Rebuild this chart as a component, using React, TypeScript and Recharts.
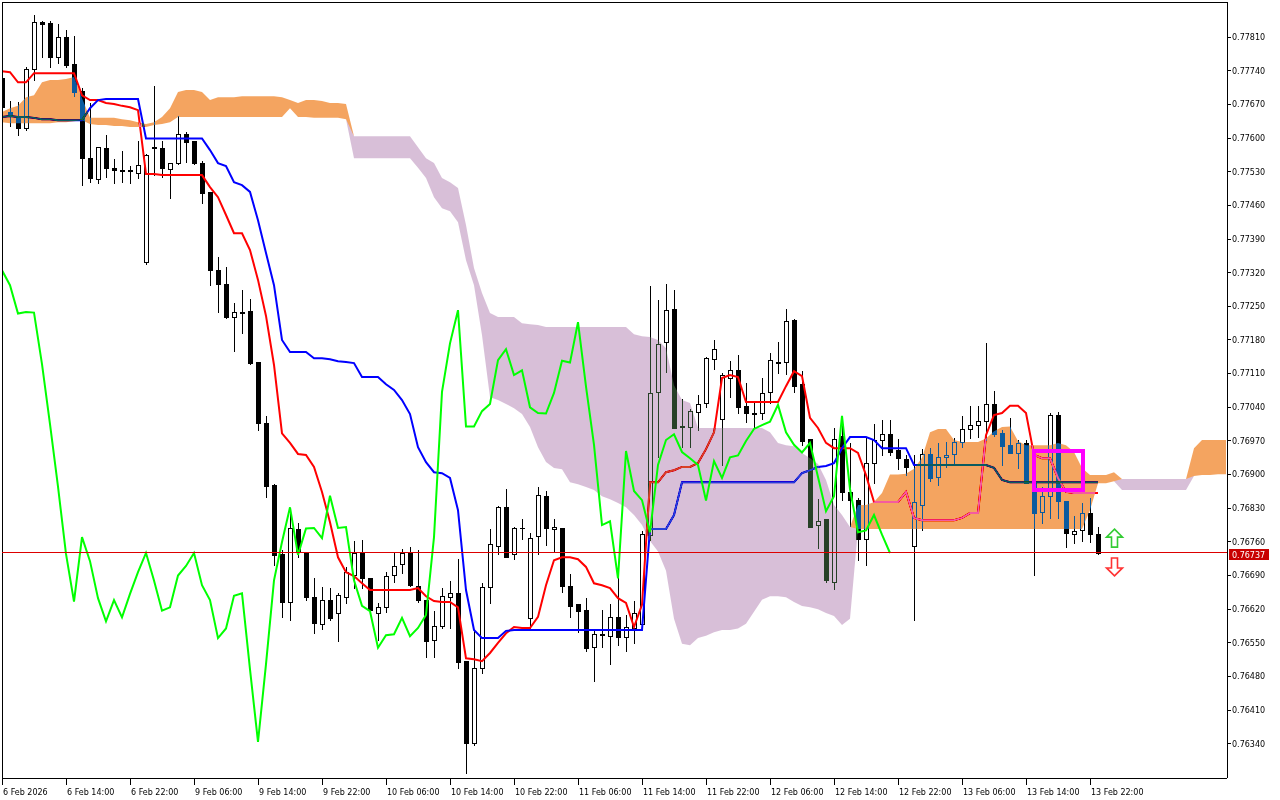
import {
  ComposedChart, Bar, Line, Area, XAxis, YAxis, CartesianGrid,
  ReferenceLine, ReferenceArea, ReferenceDot,
} from 'recharts';

// prices are in points (0.76737 -> 76737)
const opens = [
  77725, 77654, 77644, 77621, 77743, 77842, 77839, 77768, 77810, 77754,
  77698, 77558, 77515, 77579, 77538, 77533, 77533, 77527, 77342, 77581,
  77579, 77536, 77548, 77608, 77594, 77548, 77488, 77325, 77296, 77228,
  77238, 77240, 77134, 77007, 76878, 76735, 76635, 76787, 76737, 76645,
  76589, 76639, 76612, 76645, 76691, 76737, 76685, 76612, 76624, 76691,
  76714, 76737, 76668, 76639, 76556, 76585, 76645, 76653, 76512, 76342,
  76498, 76666, 76751, 76832, 76735, 76789, 76602, 76772, 76855, 76787,
  76789, 76668, 76631, 76618, 76541, 76567, 76564, 76604, 76562, 76581,
  76590, 76774, 77072, 77176, 77244, 77001, 76999, 77030, 77049, 77140,
  77015, 77100, 77117, 77042, 77028, 77028, 77072, 77134, 77134, 77221,
  77088, 76974, 76795, 76807, 76676, 76980, 76864, 76847, 76766, 76924,
  76972, 76984, 76951, 76932, 76751, 76837, 76943, 76895, 76936, 76943,
  76968, 76995, 77003, 77011, 77047, 76986, 76961, 76945, 76966, 76882,
  76822, 76855, 77024, 76845, 76776, 76785, 76820, 76776,
];
const highs = [
  77731, 77677, 77675, 77748, 77856, 77843, 77843, 77837, 77825, 77812,
  77704, 77673, 77581, 77606, 77556, 77573, 77542, 77594, 77567, 77708,
  77594, 77548, 77646, 77612, 77594, 77552, 77488, 77352, 77332, 77257,
  77284, 77265, 77134, 77022, 76880, 76743, 76830, 76799, 76737, 76685,
  76666, 76664, 76654, 76708, 76762, 76764, 76685, 76633, 76697, 76739,
  76745, 76749, 76743, 76639, 76616, 76664, 76679, 76724, 76512, 76577,
  76674, 76787, 76835, 76870, 76791, 76807, 76778, 76874, 76866, 76807,
  76789, 76693, 76631, 76643, 76577, 76618, 76631, 76695, 76608, 76637,
  76782, 77292, 77263, 77296, 77284, 77057, 77036, 77065, 77144, 77180,
  77111, 77136, 77149, 77090, 77049, 77101, 77153, 77176, 77244, 77223,
  77115, 76974, 76849, 76807, 76997, 77020, 76966, 76851, 76978, 77005,
  77013, 77013, 76974, 76941, 76941, 76953, 76955, 76966, 76968, 76976,
  77022, 77043, 77043, 77174, 77074, 76993, 77018, 76972, 76972, 76882,
  76874, 77028, 77030, 76845, 76814, 76841, 76851, 76791,
];
const lows = [
  77654, 77625, 77606, 77617, 77721, 77768, 77748, 77756, 77748, 77687,
  77502, 77508, 77506, 77519, 77506, 77508, 77506, 77517, 77338, 77523,
  77519, 77475, 77546, 77550, 77546, 77465, 77294, 77238, 77226, 77157,
  77194, 77130, 76993, 76853, 76712, 76604, 76597, 76728, 76639, 76570,
  76579, 76597, 76554, 76633, 76664, 76664, 76612, 76556, 76614, 76676,
  76695, 76668, 76635, 76520, 76520, 76581, 76581, 76498, 76279, 76337,
  76487, 76633, 76735, 76728, 76724, 76766, 76579, 76735, 76753, 76739,
  76656, 76604, 76572, 76533, 76471, 76541, 76506, 76545, 76533, 76550,
  76581, 76764, 76936, 77113, 76997, 76957, 76957, 76993, 77040, 77119,
  76920, 77061, 77028, 77009, 76997, 77015, 77049, 77111, 77109, 77072,
  76961, 76791, 76747, 76676, 76662, 76847, 76793, 76722, 76712, 76882,
  76941, 76941, 76911, 76899, 76597, 76785, 76887, 76878, 76916, 76924,
  76957, 76976, 76978, 76972, 76980, 76920, 76945, 76914, 76882, 76691,
  76799, 76810, 76810, 76749, 76758, 76762, 76760, 76735,
];
const closes = [
  77664, 77646, 77621, 77743, 77841, 77838, 77768, 77810, 77752, 77696,
  77558, 77517, 77581, 77538, 77533, 77532, 77531, 77544, 77565, 77580,
  77538, 77548, 77608, 77592, 77548, 77486, 77325, 77296, 77228, 77238,
  77237, 77132, 77007, 76876, 76733, 76635, 76789, 76739, 76645, 76591,
  76639, 76602, 76649, 76697, 76737, 76685, 76618, 76624, 76689, 76710,
  76737, 76670, 76639, 76554, 76585, 76647, 76653, 76510, 76342, 76498,
  76666, 76755, 76832, 76728, 76789, 76788, 76768, 76857, 76789, 76791,
  76668, 76627, 76616, 76539, 76568, 76569, 76604, 76562, 76583, 76612,
  76776, 77070, 77171, 77242, 76997, 77000, 77032, 77047, 77142, 77161,
  77107, 77117, 77040, 77028, 77027, 77070, 77138, 77133, 77219, 77084,
  76970, 76791, 76803, 76681, 76975, 76864, 76847, 76766, 76924, 76972,
  76984, 76947, 76934, 76916, 76843, 76943, 76893, 76936, 76940, 76968,
  76995, 77003, 77011, 77047, 76984, 76959, 76945, 76966, 76882, 76820,
  76855, 77024, 76845, 76778, 76783, 76820, 76776, 76737,
];

const tenkan = [
  77739, 77737, 77716, 77716, 77735, 77735, 77735, 77735, 77735, 77735,
  77689, 77679, 77679, 77673, 77671, 77667, 77664, 77658, 77525, 77525,
  77523, 77523, 77523, 77523, 77523, 77523, 77498, 77477, 77440, 77402,
  77402, 77367, 77305, 77230, 77128, 76986, 76966, 76943, 76941, 76916,
  76864, 76801, 76728, 76697, 76689, 76674, 76660, 76660, 76660, 76660,
  76660, 76660, 76664, 76647, 76637, 76635, 76635, 76624, 76518, 76516,
  76512, 76529, 76550, 76570, 76583, 76581, 76581, 76604, 76670, 76722,
  76728, 76728, 76724, 76708, 76674, 76670, 76664, 76643, 76633, 76583,
  76629, 76884, 76884, 76905, 76909, 76916, 76916, 76924, 76953, 76988,
  77101, 77107, 77103, 77051, 77051, 77051, 77051, 77051, 77084, 77115,
  77105, 77018, 76997, 76966, 76955, 76955, 76955, 76945, 76899, 76843,
  76843, 76843, 76843, 76864, 76810, 76805, 76805, 76805, 76805, 76805,
  76810, 76820, 76820, 76982, 77024, 77028, 77043, 77043, 77028, 76941,
  76934, 76934, 76893, 76864, 76862, 76862, 76862, 76862,
];
const kijun = [
  77644, 77646, 77644, 77644, 77642, 77639, 77639, 77637, 77637, 77637,
  77637, 77662, 77679, 77681, 77681, 77681, 77681, 77681, 77599, 77599,
  77599, 77599, 77599, 77599, 77599, 77599, 77575, 77548, 77542, 77508,
  77502, 77488, 77429, 77361, 77294, 77180, 77155, 77155, 77155, 77142,
  77142, 77140, 77136, 77134, 77132, 77103, 77103, 77103, 77088, 77076,
  77055, 77026, 76957, 76926, 76905, 76903, 76893, 76826, 76660, 76577,
  76560, 76560, 76560, 76575, 76577, 76577, 76577, 76577, 76577, 76577,
  76577, 76577, 76577, 76577, 76577, 76577, 76577, 76577, 76577, 76577,
  76577, 76787, 76787, 76787, 76816, 76884, 76884, 76884, 76884, 76884,
  76884, 76884, 76884, 76884, 76884, 76884, 76884, 76884, 76884, 76884,
  76903, 76909, 76916, 76918, 76924, 76955, 76978, 76978, 76978, 76972,
  76955, 76955, 76955, 76955, 76920, 76920, 76920, 76920, 76920, 76920,
  76920, 76920, 76920, 76920, 76914, 76889, 76884, 76884, 76884, 76884,
  76884, 76884, 76884, 76884, 76884, 76884, 76884, 76884,
];
// lagging span, 26 bars back
const chikou = [
  77325, 77294, 77235, 77238, 77237, 77130, 77005, 76875, 76735, 76636,
  76770, 76720, 76643, 76595, 76639, 76603, 76652, 76697, 76737, 76680,
  76617, 76624, 76690, 76710, 76737, 76670, 76639, 76560, 76580, 76648,
  76653, 76495, 76344, 76506, 76680, 76760, 76832, 76733, 76788, 76789,
  76768, 76856, 76789, 76791, 76680, 76627, 76616, 76540, 76566, 76568,
  76602, 76564, 76581, 76608, 76770, 77072, 77173, 77242, 77000, 77000,
  77032, 77047, 77138, 77161, 77107, 77117, 77040, 77028, 77027, 77070,
  77137, 77133, 77217, 77083, 76962, 76795, 76803, 76684, 76949, 76866,
  76847, 76780, 76920, 76972, 76984, 76947, 76934, 76920, 76846, 76928,
  76893, 76936, 76940, 76970, 76995, 77003, 77010, 77045, 76988, 76962,
  76946, 76966, 76895, 76824, 76855, 77022, 76870, 76780, 76784, 76816,
  76775, 76737,
];
// leading spans, 26 bars forward
const spanA = [
  77654, 77662, 77667, 77685, 77689, 77716, 77721, 77721, 77723, 77727,
  77683, 77642, 77642, 77642, 77642, 77639, 77637, 77633, 77629, 77633,
  77644, 77662, 77696, 77700, 77700, 77696, 77679, 77685, 77685, 77685,
  77687, 77687, 77687, 77687, 77687, 77685, 77679, 77673, 77679, 77679,
  77677, 77673, 77673, 77671, 77558, 77558, 77558, 77558, 77558, 77558,
  77558, 77558, 77538, 77517, 77477, 77454, 77448, 77425, 77346, 77294,
  77190, 77061, 77055, 77047, 77038, 77026, 76999, 76957, 76926, 76914,
  76911, 76884, 76880, 76874, 76868, 76855, 76849, 76841, 76832, 76816,
  76795, 76762, 76740, 76700, 76600, 76548, 76545, 76560, 76565, 76572,
  76577, 76577, 76580, 76590, 76615, 76640, 76647, 76647, 76645, 76635,
  76627, 76624, 76620, 76612, 76606, 76587, 76600, 76837, 76837, 76843,
  76862, 76900, 76900, 76902, 76912, 76935, 76988, 76995, 76995, 76972,
  76968, 76968, 76968, 76975, 76990, 76999, 77000, 76970, 76961, 76961,
  76961, 76961, 76966, 76961, 76947, 76914, 76899, 76899, 76899, 76905,
  76868, 76868, 76868, 76868, 76868, 76868, 76868, 76868, 76868, 76955,
  76972, 76972, 76972, 76972,
];
const spanB = [
  77633, 77631, 77631, 77631, 77631, 77631, 77631, 77633, 77633, 77635,
  77637, 77629, 77627, 77627, 77625, 77625, 77623, 77623, 77623, 77627,
  77629, 77633, 77644, 77644, 77644, 77644, 77644, 77644, 77644, 77644,
  77644, 77644, 77644, 77644, 77644, 77644, 77662, 77644, 77644, 77642,
  77642, 77642, 77642, 77639, 77604, 77604, 77604, 77604, 77604, 77604,
  77604, 77604, 77581, 77558, 77548, 77517, 77508, 77496, 77419, 77330,
  77278, 77236, 77228, 77228, 77228, 77215, 77213, 77211, 77207, 77207,
  77207, 77207, 77207, 77207, 77207, 77207, 77207, 77207, 77207, 77192,
  77188, 77186, 77180, 77163, 77086, 77055, 77049, 76997, 76997, 76997,
  76997, 76997, 76997, 76997, 76997, 76997, 76988, 76966, 76961, 76959,
  76945, 76934, 76922, 76889, 76837, 76816, 76791, 76787, 76787, 76787,
  76787, 76787, 76787, 76787, 76787, 76787, 76787, 76787, 76787, 76787,
  76787, 76787, 76787, 76787, 76787, 76787, 76787, 76787, 76787, 76787,
  76787, 76787, 76787, 76787, 76787, 76787, 76826, 76882, 76882, 76886,
  76891, 76891, 76891, 76891, 76891, 76891, 76891, 76891, 76891, 76897,
  76899, 76899, 76901, 76901,
];

const xTickBars = [0, 8, 16, 24, 32, 40, 48, 56, 64, 72, 80, 88, 96, 104, 112, 120, 128, 136];
const xTickLabels = [
  '6 Feb 2026', '6 Feb 14:00', '6 Feb 22:00', '9 Feb 06:00', '9 Feb 14:00', '9 Feb 22:00',
  '10 Feb 06:00', '10 Feb 14:00', '10 Feb 22:00', '11 Feb 06:00', '11 Feb 14:00', '11 Feb 22:00',
  '12 Feb 06:00', '12 Feb 14:00', '12 Feb 22:00', '13 Feb 06:00', '13 Feb 14:00', '13 Feb 22:00',
];
const yTicks = [
  76340, 76410, 76480, 76550, 76620, 76690, 76760, 76830, 76900, 76970, 77040,
  77110, 77180, 77250, 77320, 77390, 77460, 77530, 77600, 77670, 77740, 77810,
];
const lastPrice = 76737;

const rows = spanA.map((a, i) => {
  const b = spanB[i];
  const row: any = { i, orange: [b, Math.max(a, b)], thistle: [Math.min(a, b), b] };
  if (i < opens.length) {
    row.o = opens[i]; row.h = highs[i]; row.l = lows[i]; row.c = closes[i];
    row.range = [lows[i], highs[i]];
    row.tenkan = tenkan[i];
    row.kijun = kijun[i];
  }
  if (i < chikou.length) row.chikou = chikou[i];
  return row;
});

const FONT = 'DejaVu Sans';

const Candle = (props: any) => {
  const { x, y, width, height, payload } = props;
  if (!payload || payload.o == null || !height || payload.h === payload.l) return null;
  const top = Math.min(y, y + height);
  const span = Math.abs(height);
  const k = span / (payload.h - payload.l);
  const cx = Math.round(x + width / 2);
  const yO = Math.round(top + (payload.h - payload.o) * k);
  const yC = Math.round(top + (payload.h - payload.c) * k);
  const bTop = Math.min(yO, yC);
  const bH = Math.max(yO, yC) - bTop;
  const bull = payload.c > payload.o;
  return (
    <g shapeRendering="crispEdges">
      <line x1={cx + 0.5} x2={cx + 0.5} y1={Math.round(top)} y2={Math.round(top + span) + 1} stroke="#000" />
      {bull ? (
        <rect x={cx - 1.5} y={bTop + 0.5} width={4} height={Math.max(bH, 1)} fill="#fff" stroke="#000" />
      ) : (
        <rect x={cx - 2} y={bTop} width={5} height={bH + 1} fill="#000" />
      )}
    </g>
  );
};

const XTick = ({ x, y, payload }: any) => (
  <text x={x + 1} y={y} dy="0.71em" textAnchor="start" fontSize={8} fontFamily={FONT} fill="#000">
    {xTickLabels[xTickBars.indexOf(payload.value)]}
  </text>
);

const PriceTag = ({ cx, cy }: any) => (
  <g>
    <rect x={cx + 2} y={Math.round(cy) - 4} width={40} height={11} fill="#c80000" />
    <text x={cx + 5} y={Math.round(cy) + 4.5} fontSize={8} fontFamily={FONT} fill="#fff">
      {(lastPrice / 1e5).toFixed(5)}
    </text>
  </g>
);

const Arrow = ({ cx, cy, up }: any) => {
  const s = up ? 1 : -1;
  const pts = [[0, -9], [8, -1], [3, -1], [3, 9], [-3, 9], [-3, -1], [-8, -1]]
    .map(([px, py]) => `${cx + 0.5 + px},${cy + s * py}`).join(' ');
  return <polygon points={pts} fill="#fff" stroke={up ? '#33cc33' : '#ff3333'} strokeWidth={1.6} />;
};

export default function App() {
  return (
    <div style={{ width: 1280, height: 800, background: '#fff' }}>
      <style>{`
        body { margin: 0; background: #fff; }
        .recharts-surface { background: #fff; }
        .cloud { mix-blend-mode: difference; }
        svg line { shape-rendering: crispEdges; }
      `}</style>
      <ComposedChart width={1280} height={800} data={rows} margin={{ top: 2, right: 0, bottom: 0, left: 2 }}>
        <CartesianGrid horizontal={false} vertical={false} fill="#ffffff" />
        <XAxis
          dataKey="i" type="number" domain={[0, 153.125]} allowDataOverflow
          ticks={xTickBars} interval={0} height={22} tickSize={7} tickMargin={4}
          tick={<XTick />} axisLine={{ stroke: '#000' }} tickLine={{ stroke: '#000' }}
        />
        <YAxis
          orientation="right" width={53} type="number" domain={[76269, 77883]} allowDataOverflow
          ticks={yTicks} interval={0} tickSize={4} tickMargin={1}
          tickFormatter={(v: number) => (v / 1e5).toFixed(5)}
          tick={{ fontSize: 8, fontFamily: FONT, fill: '#000' }}
          axisLine={{ stroke: '#000' }} tickLine={{ stroke: '#000' }}
        />
        <Bar dataKey="range" barSize={5} shape={(p: any) => <Candle {...p} />} isAnimationActive={false} zIndex={300} />
        <Line dataKey="tenkan" type="linear" stroke="#ff0000" strokeWidth={2} dot={false} activeDot={false} isAnimationActive={false} zIndex={400} />
        <Line dataKey="kijun" type="linear" stroke="#0000ff" strokeWidth={2} dot={false} activeDot={false} isAnimationActive={false} zIndex={400} />
        <Area dataKey="orange" type="linear" className="cloud" stroke="none" fill="#0b5b9f" fillOpacity={1} dot={false} activeDot={false} isAnimationActive={false} zIndex={450} />
        <Area dataKey="thistle" type="linear" className="cloud" stroke="none" fill="#274027" fillOpacity={1} dot={false} activeDot={false} isAnimationActive={false} zIndex={450} />
        <Line dataKey="chikou" type="linear" stroke="#00ff00" strokeWidth={2} dot={false} activeDot={false} isAnimationActive={false} zIndex={460} />
        <ReferenceLine x={0} stroke="#000" zIndex={600} />
        <ReferenceLine y={77883} stroke="#000" zIndex={600} />
        <ReferenceLine y={lastPrice} stroke="#dd0000" zIndex={600} />
        <ReferenceArea x1={129} x2={135.125} y1={76868} y2={76949} fill="none" stroke="#ff00ff" strokeWidth={4} zIndex={650} />
        <ReferenceDot x={139} y={76768} shape={(p: any) => <Arrow {...p} up />} zIndex={700} />
        <ReferenceDot x={139} y={76708} shape={(p: any) => <Arrow {...p} up={false} />} zIndex={700} />
        <ReferenceDot x={153.125} y={lastPrice} shape={(p: any) => <PriceTag {...p} />} zIndex={700} />
      </ComposedChart>
    </div>
  );
}
